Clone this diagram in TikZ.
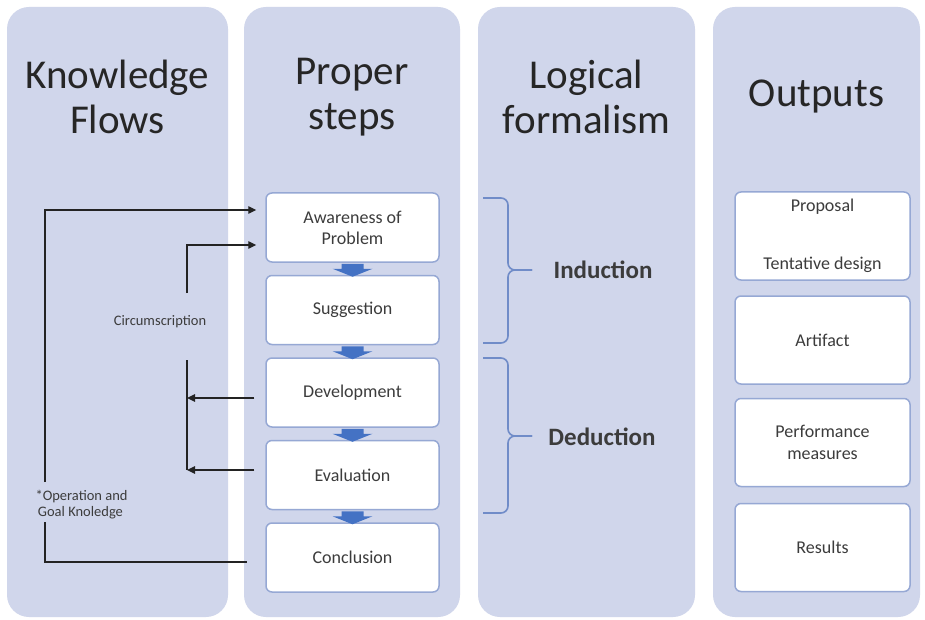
\documentclass[tikz,border=0pt]{standalone}
\usepackage{fontspec}
\setmainfont{Carlito}
\usetikzlibrary{arrows.meta,calc}

\definecolor{panelfill}{RGB}{208,214,235}
\definecolor{boxline}{RGB}{150,168,212}
\definecolor{inktext}{RGB}{60,60,60}
\definecolor{bracecol}{RGB}{112,140,200}
\definecolor{stepblue}{RGB}{68,114,196}
\definecolor{flowink}{RGB}{35,35,35}

\begin{document}
\begin{tikzpicture}[x=1pt,y=-1pt,
  panel/.style={fill=panelfill, draw=none, rounded corners=22pt, inner sep=0pt, outer sep=0pt},
  title/.style={text=black!85, align=center, font=\fontsize{41}{45}\selectfont},
  stepbox/.style={draw=boxline, line width=1.5pt, fill=white, rounded corners=6pt,
    minimum width=173pt, minimum height=69pt, inner sep=0pt, align=center,
    text=inktext, font=\fontsize{18}{21}\selectfont},
  outbox/.style={draw=boxline, line width=1.5pt, fill=white, rounded corners=6pt,
    minimum width=175pt, minimum height=88pt, inner sep=0pt, align=center,
    text=inktext, font=\fontsize{18}{22}\selectfont},
  boxtext/.style={text=inktext, font=\fontsize{18}{22}\selectfont},
  logic/.style={text=inktext, font=\bfseries\fontsize{25}{28}\selectfont},
  small/.style={text=inktext, font=\fontsize{14.5}{16}\selectfont, align=left},
  flowline/.style={draw=flowink, line width=1.4pt},
  flowtip/.style={-{Triangle[length=8pt,width=7.5pt]}},
  bracket/.style={draw=bracecol, line width=1.6pt, rounded corners=7pt},
]
\useasboundingbox (0,0) rectangle (925,620);
\fill[white] (0,0) rectangle (925,620);

% column panels
\node[panel, minimum width=221pt, minimum height=610pt] (colK) at (117.5,312) {};
\node[panel, minimum width=216pt, minimum height=610pt] (colP) at (352,312) {};
\node[panel, minimum width=217pt, minimum height=610pt] (colL) at (586.5,312) {};
\node[panel, minimum width=207pt, minimum height=610pt] (colO) at (816.5,312) {};

% column headings
\node[title] (tK) at (117.5,97) {Knowledge\\Flows};
\node[title] (tP) at (352,97) {Proper\\steps};
\node[title] (tL) at (586.5,97) {Logical\\formalism};
\node[title] (tO) at (816.5,97) {Outputs};

% proper steps
\node[stepbox] (s1) at (352.5,227.5) {Awareness of\\Problem};
\node[stepbox] (s2) at (352.5,310) {Suggestion};
\node[stepbox] (s3) at (352.5,392.5) {Development};
\node[stepbox] (s4) at (352.5,475) {Evaluation};
\node[stepbox] (s5) at (352.5,557.5) {Conclusion};

% small blue arrows between the steps
\foreach \a/\b in {s1/s2,s2/s3,s3/s4,s4/s5}{
  \coordinate (g) at ($(\a.south)!0.5!(\b.north)$);
  \fill[stepblue] (g) ++(-11,-5) -- ++(22,0) -- ++(0,5) -- ++(9,0)
    -- ++(-20,8) -- ++(-20,-8) -- ++(9,0) -- cycle;
}

% outputs
\node[outbox] (o1) at (822.5,236) {};
\node[boxtext] (o1a) at (822.5,207) {Proposal};
\node[boxtext] (o1b) at (822.5,265) {Tentative design};
\node[outbox] (o2) at (822.5,340) {Artifact};
\node[outbox] (o3) at (822.5,442.5) {Performance\\measures};
\node[outbox] (o4) at (822.5,547.5) {Results};

% logical formalism brackets
\draw[bracket] (483,198) -- (508,198) -- (508,270) -- (532,270);
\draw[bracket] (483,343) -- (508,343) -- (508,270) -- (532,270);
\draw[bracket] (483,358) -- (508,358) -- (508,436) -- (532,436);
\draw[bracket] (483,513) -- (508,513) -- (508,436) -- (532,436);
\node[logic] (ind) at (603,270) {Induction};
\node[logic] (ded) at (602,437) {Deduction};

% knowledge flows
\coordinate (oTop) at (45,210);
\coordinate (oMid) at (45,482);
\coordinate (oLow) at (45,522);
\coordinate (oBot) at (45,562);
\coordinate (cTop) at (187,245);
\coordinate (cEnd) at (187,293);
\coordinate (cLow) at (187,360);
\coordinate (dArr) at (187,398);
\coordinate (eArr) at (187,470);

\draw[flowline, flowtip, shorten >=9pt] (oMid) -- (oTop) -- (oTop -| s1.west);
\draw[flowline, shorten >=18pt] (oLow) -- (oBot) -- (oBot -| s5.west);
\draw[flowline, flowtip, shorten >=9pt] (cEnd) -- (cTop) -- (cTop -| s1.west);
\draw[flowline] (cLow) -- (eArr);
\draw[flowline, flowtip, shorten <=11pt] (dArr -| s3.west) -- (dArr);
\draw[flowline, flowtip, shorten <=11pt] (eArr -| s4.west) -- (eArr);

\node[small] (circ) at (160,322) {Circumscription};
\node[small, anchor=west] (opk) at (32,505) {*Operation and\\\,Goal Knoledge};
\end{tikzpicture}
\end{document}
